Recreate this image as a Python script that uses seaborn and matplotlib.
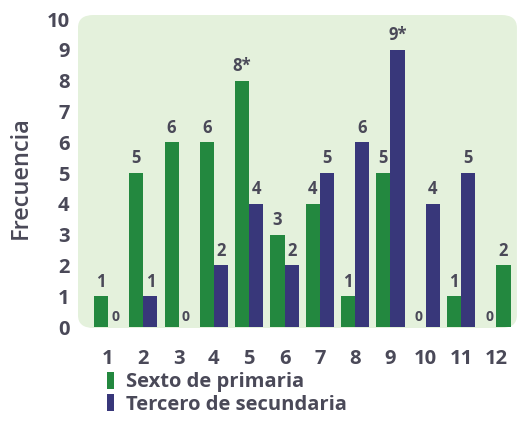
import pandas as pd
import seaborn as sns
import matplotlib.pyplot as plt
from matplotlib.patches import FancyBboxPatch

# data
categorias = ['1', '2', '3', '4', '5', '6', '7', '8', '9', '10', '11', '12']
sexto = [1, 5, 6, 6, 8, 3, 4, 1, 5, 0, 1, 0]
tercero = [0, 1, 0, 2, 4, 2, 5, 6, 9, 4, 5, 2]
etiq_sexto = ['1', '5', '6', '6', '8*', '3', '4', '1', '5', '0', '1', '0']
etiq_tercero = ['0', '1', '0', '2', '4', '2', '5', '6', '9*', '4', '5', '2']
grupos = ['Sexto de primaria', 'Tercero de secundaria']

verde = '#23883f'
morado = '#38377a'
gris = '#4a4958'

df = pd.DataFrame({
    'cat': categorias * 2,
    'freq': sexto + tercero,
    'grupo': [grupos[0]] * len(sexto) + [grupos[1]] * len(tercero),
})

sns.set_theme(style='white')
plt.rcParams['font.family'] = ['Open Sans', 'DejaVu Sans']

fig = plt.figure(figsize=(5.19, 4.23), dpi=100)
ax = fig.add_axes([78 / 519, 1 - 328 / 423, 1 - 78 / 519, (328 - 15) / 423])
ax.patch.set_visible(False)
# light green panel with rounded corners
fondo = FancyBboxPatch((78 / 519, 1 - 328 / 423), 1 - 78 / 519 - 0.004,
                       (328 - 15) / 423, boxstyle='round,pad=0,rounding_size=0.03',
                       transform=fig.transFigure, facecolor='#e4f1dc',
                       edgecolor='none', zorder=-1)
fig.patches.append(fondo)

sns.barplot(data=df, x='cat', y='freq', hue='grupo', order=categorias,
            hue_order=grupos, palette=[verde, morado], saturation=1,
            width=0.8, linewidth=0, ax=ax)

# the last bar is drawn green in the original
ax.containers[1].patches[-1].set_facecolor(verde)

for cont, etiq in zip(ax.containers, [etiq_sexto, etiq_tercero]):
    txts = ax.bar_label(cont, labels=etiq, padding=4, fontsize=12,
                        color=gris, fontweight='bold')
    for t, e in zip(txts, etiq):
        if e == '0':
            t.set_fontsize(10)
            t.xyann = (0, 2)

ax.set_xlim(-0.85, 11.64)
ax.set_ylim(-0.03, 10.13)
ax.set_yticks(range(0, 11))
for s in ax.spines.values():
    s.set_visible(False)
ax.tick_params(axis='both', length=0, labelsize=14.5, colors=gris)
ax.tick_params(axis='x', pad=15)
ax.tick_params(axis='y', pad=6)
for t in ax.get_xticklabels() + ax.get_yticklabels():
    t.set_fontweight('bold')
ax.set_xlabel('')
ax.set_ylabel('')
fig.text(21 / 519, 1 - 178 / 423, 'Frecuencia', rotation=90, ha='center',
         va='center', fontsize=17, color=gris, fontweight='semibold')

h, l = ax.get_legend_handles_labels()
ax.get_legend().remove()
leg = fig.legend(h, l, loc='upper left', bbox_to_anchor=(107 / 519, 1 - 372 / 423),
                 frameon=False, fontsize=14.5, handlelength=0.35, handleheight=0.9,
                 handletextpad=0.6, labelspacing=0.1, borderpad=0,
                 borderaxespad=0, labelcolor=gris)
for t in leg.get_texts():
    t.set_fontweight('bold')

fig.savefig('out.png', dpi=100)
